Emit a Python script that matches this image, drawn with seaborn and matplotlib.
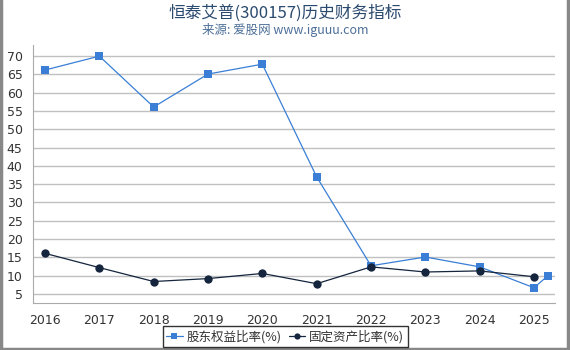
import numpy as np
import pandas as pd
import matplotlib
matplotlib.use('Agg')
import matplotlib.pyplot as plt
import seaborn as sns
from matplotlib.lines import Line2D

# 数据
years_equity = [2016, 2017, 2018, 2019, 2020, 2021, 2022, 2023, 2024, 2025, 2025.25]
equity_ratio = [66.2, 70.0, 56.1, 65.1, 67.8, 37.0, 12.7, 15.1, 12.4, 6.7, 9.9]
years_fixed = [2016, 2017, 2018, 2019, 2020, 2021, 2022, 2023, 2024, 2025]
fixed_ratio = [16.1, 12.2, 8.4, 9.2, 10.6, 7.8, 12.4, 11.0, 11.3, 9.7]
xticks = [2016, 2017, 2018, 2019, 2020, 2021, 2022, 2023, 2024, 2025]
yticks = [5, 10, 15, 20, 25, 30, 35, 40, 45, 50, 55, 60, 65, 70]

sns.set_theme(style='white')
plt.rcParams['font.family'] = ['Noto Sans CJK SC', 'DejaVu Sans']

blue = '#3a7fd5'
navy = '#14253d'

fig = plt.figure(figsize=(5.7, 3.5), dpi=100)
ax = fig.add_axes([0.058, 0.134, 0.916, 0.737])

sns.lineplot(x=years_equity, y=equity_ratio, ax=ax, color=blue, marker='s',
             markersize=6, markeredgewidth=0, linewidth=0.9)
sns.lineplot(x=years_fixed, y=fixed_ratio, ax=ax, color=navy, marker='o',
             markersize=6, markeredgewidth=0, linewidth=0.9)

ax.set_xlim(2015.78, 2025.39)
ax.set_ylim(2.5, 73)
ax.set_xticks(xticks)
ax.set_yticks(yticks)
ax.set_xticklabels([str(y) for y in xticks], family=['DejaVu Sans'])
ax.set_yticklabels([str(y) for y in yticks], family=['DejaVu Sans'])
ax.tick_params(axis='both', labelsize=9, colors='#333333', length=4, width=0.8)
ax.tick_params(axis='x', color='#aaaaaa')
ax.tick_params(axis='y', color='#aaaaaa')
ax.yaxis.grid(True, color='#c0c0c0', linewidth=1)
ax.xaxis.grid(False)
for s in ['top', 'right']:
    ax.spines[s].set_visible(False)
for s in ['left', 'bottom']:
    ax.spines[s].set_color('#aaaaaa')
    ax.spines[s].set_linewidth(0.8)

fig.text(0.5, 0.962, '恒泰艾普(300157)历史财务指标', ha='center', va='center',
         fontsize=12, color='#2b4a6f')
fig.text(0.5, 0.915, '来源: 爱股网 www.iguuu.com', ha='center', va='center',
         fontsize=9, color='#4d6f99')

handles = [
    Line2D([], [], color=blue, marker='s', markersize=4.5, markeredgewidth=0, linewidth=0.9),
    Line2D([], [], color=navy, marker='o', markersize=4.5, markeredgewidth=0, linewidth=0.9),
]
leg = fig.legend(handles, ['股东权益比率(%)', '固定资产比率(%)'], loc='center',
                 bbox_to_anchor=(0.5, 0.038), ncol=2, fontsize=9, frameon=True,
                 fancybox=False, handlelength=1.3, handletextpad=0.3,
                 columnspacing=0.6, borderpad=0.3, borderaxespad=0)
leg.get_frame().set_edgecolor('black')
leg.get_frame().set_linewidth(1)
for t in leg.get_texts():
    t.set_color('#333333')

# 外框 (左、右、下)
for xs, ys in [([0.002, 0.002], [0, 1]), ([0.996, 0.996], [0, 1]), ([0, 1], [0.004, 0.004])]:
    fig.add_artist(Line2D(xs, ys, transform=fig.transFigure, color='#888888', linewidth=2.5))

fig.savefig('out.png', dpi=100)
